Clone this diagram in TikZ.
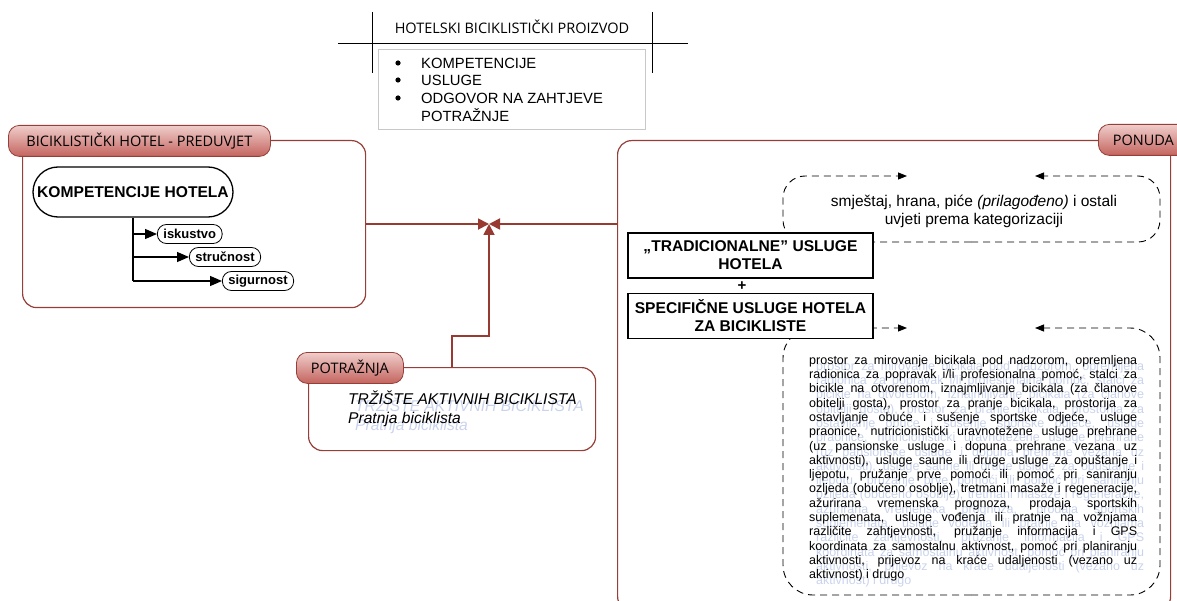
\documentclass[tikz,border=0pt]{standalone}
\usepackage{fontspec}
\setmainfont{Liberation Sans}
\newfontfamily\tabfont{Open Sans}
\usepackage{tikz}
\usetikzlibrary{positioning, calc, arrows.meta}

\definecolor{boxred}{RGB}{150,62,56}
\definecolor{linkred}{RGB}{152,58,50}
\definecolor{tabtop}{RGB}{240,205,203}
\definecolor{tabbot}{RGB}{196,100,94}
\definecolor{ghost}{RGB}{202,211,236}
\definecolor{listgray}{RGB}{200,200,200}

\newcommand{\fsz}[2]{\fontsize{#1}{#2}\selectfont}
\newcommand{\demandtext}{TRŽIŠTE AKTIVNIH BICIKLISTA\\Pratnja biciklista}
\newcommand{\extrastext}{\tolerance=10000 \hbadness=10000 \hyphenpenalty=10000
prostor za mirovanje bicikala pod nadzorom, opremljena\linebreak
radionica za popravak i/li profesionalna pomoć, stalci za\linebreak
bicikle na otvorenom, iznajmljivanje bicikala (za članove\linebreak
obitelji gosta), prostor za pranje bicikala, prostorija za\linebreak
ostavljanje obuće i sušenje sportske odjeće, usluge\linebreak
praonice, nutricionistički uravnotežene usluge prehrane\linebreak
(uz pansionske usluge i dopuna prehrane vezana uz\linebreak
aktivnosti), usluge saune ili druge usluge za opuštanje i\linebreak
ljepotu, pružanje prve pomoći ili pomoć pri saniranju\linebreak
ozljeda (obučeno osoblje), tretmani masaže i regeneracije,\linebreak
ažurirana vremenska prognoza, prodaja sportskih\linebreak
suplemenata, usluge vođenja ili pratnje na vožnjama\linebreak
različite zahtjevnosti, pružanje informacija i GPS\linebreak
koordinata za samostalnu aktivnost, pomoć pri planiranju\linebreak
aktivnosti, prijevoz na kraće udaljenosti (vezano uz\linebreak
aktivnost) i drugo}

\begin{document}
\begin{tikzpicture}[x=1pt, y=-1pt,
    redbox/.style={draw=boxred, line width=1.2pt, rounded corners=14pt},
    redtab/.style={draw=boxred, line width=0.8pt, rounded corners=11pt,
        top color=tabtop, bottom color=tabbot, inner sep=0pt,
        font=\tabfont\fsz{14.5}{17}},
    link/.style={draw=linkred, line width=1.8pt, -{Triangle[length=11pt,width=11pt]}},
    listitem/.style={anchor=base west, inner sep=0pt, font=\fsz{14.8}{17}},
    bigpill/.style={draw, line width=1.3pt, rounded corners=25pt, inner sep=0pt,
        font=\bfseries\fsz{15.6}{18}},
    smallpill/.style={draw, line width=0.8pt, rounded corners=9pt, inner xsep=6pt,
        inner ysep=0pt, minimum height=19pt, anchor=west, font=\bfseries\fsz{13}{15}},
    branch/.style={line width=1.3pt, -{Triangle[length=12pt,width=10pt]}},
    dashline/.style={dash pattern=on 7pt off 5pt, line width=0.9pt,
        -{Triangle[length=9pt,width=7pt]}},
    servicebox/.style={draw, fill=white, line width=1.1pt, minimum width=245pt,
        minimum height=45pt, align=center, inner sep=0pt, font=\bfseries\fsz{15.6}{18}},
    bodytext/.style={anchor=north west, inner sep=0pt, text width=328pt,
        align=justify, font=\fsz{12.5}{14.3}},
    demand/.style={anchor=north west, inner sep=0pt, align=left,
        font=\itshape\fsz{15.6}{19}}]
    \useasboundingbox (0,0) rectangle (1177,601);

    % Title block
    \node[font=\tabfont\fsz{14.5}{17}] (title) at (512,27) {HOTELSKI BICIKLISTIČKI PROIZVOD};
    \draw[line width=0.8pt] (338,43) -- (688,43);
    \draw[line width=0.8pt] (372,12) -- (372,73);
    \draw[line width=0.8pt] (652,12) -- (652,73);
    \node[draw=listgray, line width=0.8pt, minimum width=267pt, minimum height=80pt,
        anchor=north west] (list) at (378,49) {};
    \foreach \t/\y in {KOMPETENCIJE/63, USLUGE/80, ODGOVOR NA ZAHTJEVE/98} {
        \fill (398,\y) circle (2.6);
        \node[listitem] (item\y) at (421,\y+5.3) {\t};
    }
    \node[listitem] (item116) at (421,121.5) {POTRAŽNJE};

    % Hotel group
    \node[redbox, minimum width=343pt, minimum height=167pt, anchor=north west] (hotelbox) at (22,140) {};
    \node[redtab, minimum width=262pt, minimum height=31pt, anchor=north west] (hoteltab) at (8,125) {BICIKLISTIČKI HOTEL - PREDUVJET};
    \node[bigpill, minimum width=200pt, minimum height=50pt] (komp) at (133,192) {KOMPETENCIJE HOTELA};
    \node[smallpill] (iskustvo) at (157,234) {iskustvo};
    \node[smallpill] (strucnost) at (189,257) {stručnost};
    \node[smallpill] (sigurnost) at (222,281) {sigurnost};
    \draw[line width=1.3pt] (komp.south) -- (komp.south |- sigurnost.west);
    \foreach \n in {iskustvo, strucnost, sigurnost} {
        \draw[branch] (komp.south |- \n.west) -- (\n.west);
    }

    % Demand group
    \node[redbox, minimum width=287pt, minimum height=83pt, anchor=north west] (demandbox) at (308,367) {};
    \node[redtab, minimum width=107pt, minimum height=31pt, anchor=north west] (demandtab) at (296,352) {POTRAŽNJA};
    \node[demand, text=ghost] (demandghost) at (355,398) {\demandtext};
    \node[demand] (demandlabel) at (348,391) {\demandtext};

    % Offer group
    \node[redbox, minimum width=553pt, minimum height=470pt, anchor=north west] (ponudabox) at (617,140) {};
    \node[redtab, minimum width=90pt, minimum height=31pt, anchor=north west] (ponudatab) at (1098,124) {PONUDA};

    % Dashed boxes
    \draw[dashline, rounded corners=22pt] (971,242) -- (783,242) -- (783,176) -- (907,176);
    \draw[dashline, rounded corners=22pt] (971,242) -- (1160,242) -- (1160,176) -- (1035,176);
    \node[align=center, font=\fsz{15.5}{18}] (basictext) at (974,211)
        {smještaj, hrana, piće \textit{(prilagođeno)} i ostali\\uvjeti prema kategorizaciji};
    \draw[dashline, rounded corners=30pt] (971,595) -- (783,595) -- (783,328) -- (907,328);
    \draw[dashline, rounded corners=30pt] (971,595) -- (1160,595) -- (1160,328) -- (1035,328);
    \node[bodytext, text=ghost] (extrasghost) at (816,361) {\extrastext};
    \node[bodytext] (extras) at (809,355) {\extrastext};

    % Service boxes
    \node[servicebox] (tradbox) at (750.5,255.5) {„TRADICIONALNE” USLUGE\\HOTELA};
    \node[font=\bfseries\fsz{15}{18}, inner sep=0pt] (plus) at (742,286) {+};
    \node[servicebox] (specbox) at (750.5,316) {SPECIFIČNE USLUGE HOTELA\\ZA BICIKLISTE};

    % Links to the meeting point
    \coordinate (meet) at (489,224);
    \draw[link] (hotelbox.east) -- (meet);
    \draw[link] (meet -| ponudabox.west) -- (meet);
    \draw[link] ([xshift=144pt]demandbox.north west) |- ([yshift=-112pt]meet) -- (meet);
\end{tikzpicture}
\end{document}
